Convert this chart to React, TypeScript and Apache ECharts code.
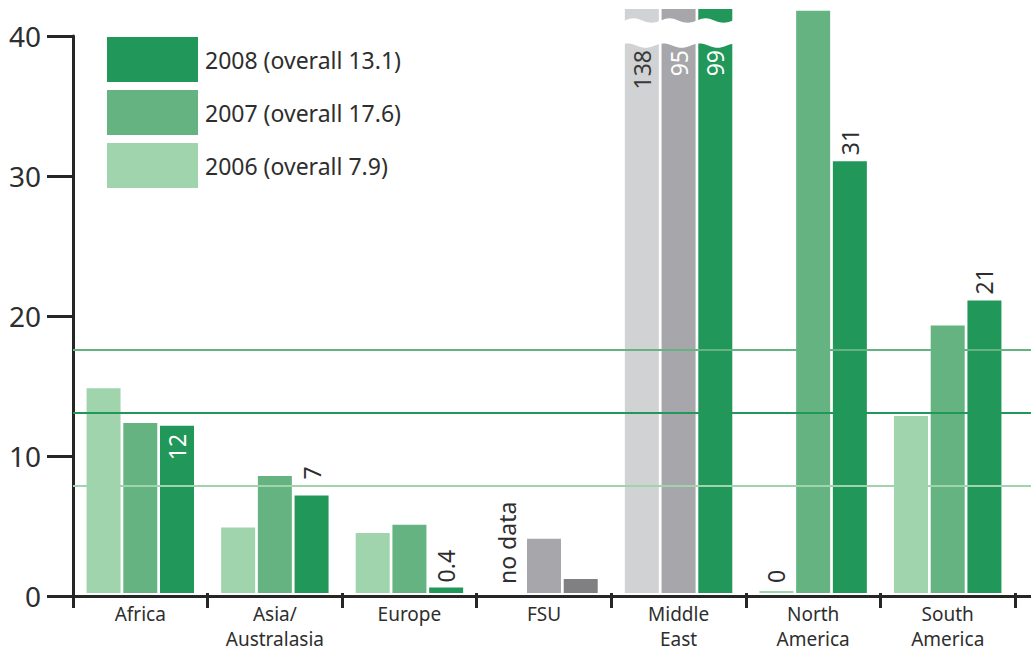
import { useEffect, useRef } from 'react';
import * as echarts from 'echarts';

// ---- data ----
const categories = ['Africa', 'Asia/Australasia', 'Europe', 'FSU', 'Middle East', 'North America', 'South America'];
const years = ['2006', '2007', '2008'];
const values2006: (number | null)[] = [14.7, 4.7, 4.3, null, 138, 0, 12.7];
const values2007: (number | null)[] = [12.2, 8.4, 4.9, 3.9, 95, 41.8, 19.2];
const values2008: (number | null)[] = [12, 7, 0.4, 1, 99, 31, 21];
const overallByYear = [7.9, 17.6, 13.1];
const yTicks = [0, 10, 20, 30, 40];
const noDataLabel = 'no data';

// ---- styling ----
const FONT = "'Noto Sans', 'DejaVu Sans', sans-serif";
const TEXT = '#2e2e2e';
const AXIS = '#262626';
const YEAR_COLORS = ['#9fd4ad', '#65b380', '#22975a'];
const GREY_LIGHT = '#d1d2d4';
const GREY_MID = '#a7a7ab';
const GREY_DARK = '#808083';

// bars shown in grey instead of the year colour
const greyBars: Record<string, string> = {
  '2006|Middle East': GREY_LIGHT,
  '2007|Middle East': GREY_MID,
  '2007|FSU': GREY_MID,
  '2008|FSU': GREY_DARK,
};

// which bars carry a value label, and where
const valueLabels: Record<string, { inside: boolean; color: string; distance: number }> = {
  '2006|Middle East': { inside: true, color: '#3a3a3a', distance: 41 },
  '2007|Middle East': { inside: true, color: '#ffffff', distance: 41 },
  '2008|Middle East': { inside: true, color: '#ffffff', distance: 41 },
  '2008|Africa': { inside: true, color: '#ffffff', distance: 8 },
  '2008|Asia/Australasia': { inside: false, color: TEXT, distance: 16 },
  '2008|Europe': { inside: false, color: TEXT, distance: 5 },
  '2008|North America': { inside: false, color: TEXT, distance: 6 },
  '2008|South America': { inside: false, color: TEXT, distance: 6 },
  '2006|North America': { inside: false, color: TEXT, distance: 8 },
};

// pixel scale: 14px per unit, zero line at y = 596
const BAR_GRID_TOP = 9;
const ZERO_Y = 596;
const UNIT_PX = 14;
const BREAK_HI = 41.1;
const BREAK_LO = 39.3;
const VALUE_FONT = 23;

export default function App() {
  const ref = useRef<HTMLDivElement>(null);

  useEffect(() => {
    if (!ref.current) return;
    const chart = echarts.init(ref.current, undefined, { renderer: 'svg' });

    const seriesValues = [values2006, values2007, values2008];
    const yMin = yTicks[0];
    const yMax = yTicks[yTicks.length - 1];
    const yStep = yTicks[1] - yTicks[0];

    const barSeries: any[] = years.map((year, si) => {
      const s: any = {
        type: 'bar',
        name: year,
        xAxisIndex: 0,
        yAxisIndex: 0,
        barWidth: 34,
        barGap: '8%',
        barMinHeight: 2,
        z: 2,
        itemStyle: { color: YEAR_COLORS[si] },
        data: seriesValues[si].map((v, ci) => {
          const key = `${year}|${categories[ci]}`;
          const item: any = { value: v === null ? '-' : v };
          if (greyBars[key]) item.itemStyle = { color: greyBars[key] };
          const lab = valueLabels[key];
          if (lab) {
            item.label = {
              show: true,
              position: lab.inside ? 'insideTop' : 'top',
              distance: lab.distance,
              rotate: 90,
              align: lab.inside ? 'right' : 'left',
              verticalAlign: 'middle',
              color: lab.color,
              fontSize: VALUE_FONT,
              fontFamily: FONT,
              formatter: (p: any) => String(p.value),
            };
          }
          return item;
        }),
      };
      if (year === '2006') {
        s.markPoint = {
          silent: true,
          symbol: 'circle',
          symbolSize: 0,
          data: seriesValues[si]
            .map((v, ci) => (v === null ? { coord: [categories[ci], 0] } : null))
            .filter(Boolean)
            .map((d: any) => ({
              ...d,
              label: {
                show: true,
                formatter: noDataLabel,
                position: 'top',
                distance: 9,
                rotate: 90,
                align: 'left',
                verticalAlign: 'middle',
                color: TEXT,
                fontSize: VALUE_FONT,
                fontFamily: FONT,
              },
            })),
        };
      }
      return s;
    });

    // wavy white band marking the broken Middle East bars
    const breakSeries = {
      type: 'custom',
      xAxisIndex: 0,
      yAxisIndex: 0,
      z: 4,
      silent: true,
      data: [['Middle East', 0]],
      encode: { x: 0, y: 1 },
      renderItem: (_params: any, api: any) => {
        const idx = api.value(0);
        const cx = api.coord([idx, 0])[0];
        const yHi = api.coord([idx, BREAK_HI])[1];
        const yLo = api.coord([idx, BREAK_LO])[1];
        const half = 57;
        const period = 36;
        const amp = 2.2;
        let d = '';
        for (let x = -half; x <= half; x += 2) {
          d += (x === -half ? 'M' : 'L') + (cx + x) + ' ' + (yHi + amp * Math.sin((x / period) * Math.PI * 2)) + ' ';
        }
        for (let x = half; x >= -half; x -= 2) {
          d += 'L' + (cx + x) + ' ' + (yLo + amp * Math.sin(((x + 6) / period) * Math.PI * 2)) + ' ';
        }
        d += 'Z';
        return { type: 'path', shape: { pathData: d }, style: { fill: '#ffffff' } };
      },
    };

    // overall reference lines for each year
    const overallSeries = {
      type: 'line',
      name: 'overall',
      xAxisIndex: 1,
      yAxisIndex: 1,
      data: [],
      z: 6,
      silent: true,
      markLine: {
        silent: true,
        symbol: ['none', 'none'],
        label: { show: false },
        data: years.map((_y, i) => ({
          yAxis: overallByYear[i],
          lineStyle: { color: YEAR_COLORS[i], width: 2, type: 'solid' },
        })),
      },
    };

    const gridHeight = ZERO_Y - BAR_GRID_TOP;

    chart.setOption({
      animation: false,
      backgroundColor: '#ffffff',
      textStyle: { fontFamily: FONT },
      legend: {
        data: ['2008', '2007', '2006'],
        orient: 'vertical',
        left: 107,
        top: 37,
        padding: 0,
        itemWidth: 91,
        itemHeight: 45,
        itemGap: 8,
        icon: 'rect',
        selectedMode: false,
        formatter: (name: string) => `${name} (overall ${overallByYear[years.indexOf(name)]})`,
        textStyle: { fontSize: 23, color: TEXT, fontFamily: FONT, padding: [0, 0, 0, 2] },
      },
      grid: [
        { left: 73, width: 942, top: BAR_GRID_TOP, height: gridHeight },
        { left: 73, right: 0, top: ZERO_Y - yMax * UNIT_PX, height: yMax * UNIT_PX },
      ],
      xAxis: [
        {
          gridIndex: 0,
          type: 'category',
          data: categories,
          axisLine: { show: false },
          axisTick: { show: true, length: 15, lineStyle: { color: AXIS, width: 3 } },
          axisLabel: {
            interval: 0,
            fontSize: 19,
            lineHeight: 25,
            margin: 8,
            color: TEXT,
            fontFamily: FONT,
            formatter: (v: string) => (v.includes('/') ? v.replace('/', '/\n') : v.replace(' ', '\n')),
          },
          splitLine: { show: false },
        },
        {
          gridIndex: 1,
          type: 'value',
          min: 0,
          max: 1,
          axisLine: { show: true, onZero: false, lineStyle: { color: AXIS, width: 3 } },
          axisTick: { show: false },
          axisLabel: { show: false },
          splitLine: { show: false },
        },
      ],
      yAxis: [
        {
          gridIndex: 0,
          type: 'value',
          min: 0,
          max: gridHeight / UNIT_PX,
          show: false,
        },
        {
          gridIndex: 1,
          type: 'value',
          min: yMin,
          max: yMax,
          interval: yStep,
          axisLine: { show: true, lineStyle: { color: AXIS, width: 3 } },
          axisTick: { show: true, length: 26, lineStyle: { color: AXIS, width: 3 } },
          axisLabel: { fontSize: 28, margin: 32, color: TEXT, fontFamily: FONT },
          splitLine: { show: false },
        },
      ],
      series: [...barSeries, breakSeries, overallSeries],
    });

    return () => chart.dispose();
  }, []);

  return (
    <div
      ref={ref}
      style={{ position: 'absolute', left: 0, top: 0, width: 1031, height: 651 }}
    />
  );
}
